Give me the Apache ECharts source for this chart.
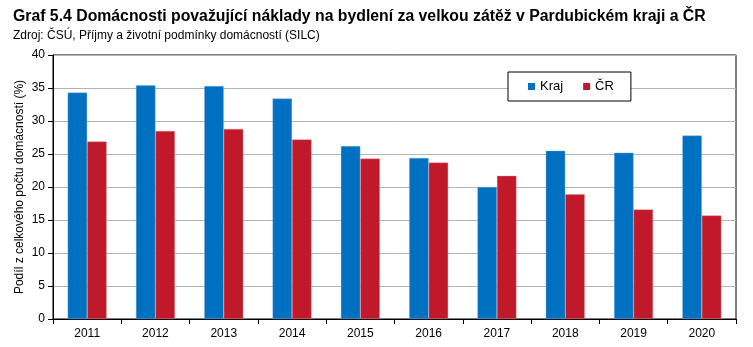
<!DOCTYPE html>
<html>
<head>
<meta charset="utf-8">
<script src="https://cdn.jsdelivr.net/npm/echarts@6/dist/echarts.min.js"></script>
<style>
  html, body { margin: 0; padding: 0; background: #fff; }
  #chart { width: 753px; height: 347px; }
</style>
</head>
<body>
<div id="chart"></div>
<script>
// Podíl domácností, pro které jsou náklady na bydlení velkou zátěží (%)
const years = ['2011', '2012', '2013', '2014', '2015', '2016', '2017', '2018', '2019', '2020'];
const kraj = [34.3, 35.4, 35.3, 33.4, 26.2, 24.4, 20.0, 25.5, 25.2, 27.8];
const cr = [26.9, 28.5, 28.8, 27.2, 24.3, 23.7, 21.7, 18.9, 16.6, 15.7];
const yTicks = [0, 5, 10, 15, 20, 25, 30, 35, 40];

const font = 'Liberation Sans, Arial, sans-serif';
const chart = echarts.init(document.getElementById('chart'), null, { renderer: 'canvas' });

chart.setOption({
  animation: false,
  backgroundColor: '#fff',
  title: [
    {
      text: 'Graf 5.4 Domácnosti považující náklady na bydlení za velkou zátěž v Pardubickém kraji a ČR',
      left: 8, top: 4,
      textStyle: { fontFamily: font, fontSize: 15.8, fontWeight: 'bold', color: '#000' }
    },
    {
      text: 'Zdroj: ČSÚ, Příjmy a životní podmínky domácností (SILC)',
      left: 8, top: 25,
      textStyle: { fontFamily: font, fontSize: 12, fontWeight: 'normal', color: '#000' }
    }
  ],
  legend: {
    data: ['Kraj', 'ČR'],
    left: 508, top: 72,
    padding: [8, 17, 8, 20],
    itemGap: 20,
    itemWidth: 7, itemHeight: 7,
    icon: 'rect',
    itemStyle: { borderWidth: 0 },
    backgroundColor: '#fff',
    borderColor: '#000', borderWidth: 1,
    textStyle: { fontFamily: font, fontSize: 13, color: '#000' }
  },
  grid: {
    left: 53, right: 17, top: 55, bottom: 28,
    show: true, borderColor: '#000', borderWidth: 1, backgroundColor: 'transparent',
    containLabel: false
  },
  xAxis: {
    type: 'category',
    data: years,
    axisLine: { lineStyle: { color: '#000', width: 1 } },
    axisTick: { show: true, alignWithLabel: false, length: 5, lineStyle: { color: '#000' } },
    axisLabel: { fontFamily: font, fontSize: 12, color: '#000', margin: 9 }
  },
  yAxis: {
    type: 'value',
    min: yTicks[0], max: yTicks[yTicks.length - 1], interval: yTicks[1] - yTicks[0],
    name: 'Podíl z celkového počtu domácností (%)',
    nameLocation: 'middle', nameGap: 27, nameMoveOverlap: false,
    nameTextStyle: { fontFamily: font, fontSize: 12, color: '#000' },
    axisLine: { show: true, lineStyle: { color: '#000', width: 1 } },
    axisTick: { show: true, length: 5, lineStyle: { color: '#000' } },
    axisLabel: { fontFamily: font, fontSize: 12, color: '#000', margin: 8 },
    splitLine: { lineStyle: { color: '#b4b4b4', width: 1 } }
  },
  series: [
    {
      name: 'Kraj', type: 'bar', data: kraj,
      barWidth: 19.5, barGap: '0%',
      itemStyle: { color: '#0070c0', borderColor: 'rgba(130,170,220,0.8)', borderWidth: 0.5 }
    },
    {
      name: 'ČR', type: 'bar', data: cr,
      barWidth: 19.5, barGap: '0%',
      itemStyle: { color: '#c0192a', borderColor: 'rgba(220,140,150,0.8)', borderWidth: 0.5 }
    }
  ]
});
</script>
</body>
</html>
